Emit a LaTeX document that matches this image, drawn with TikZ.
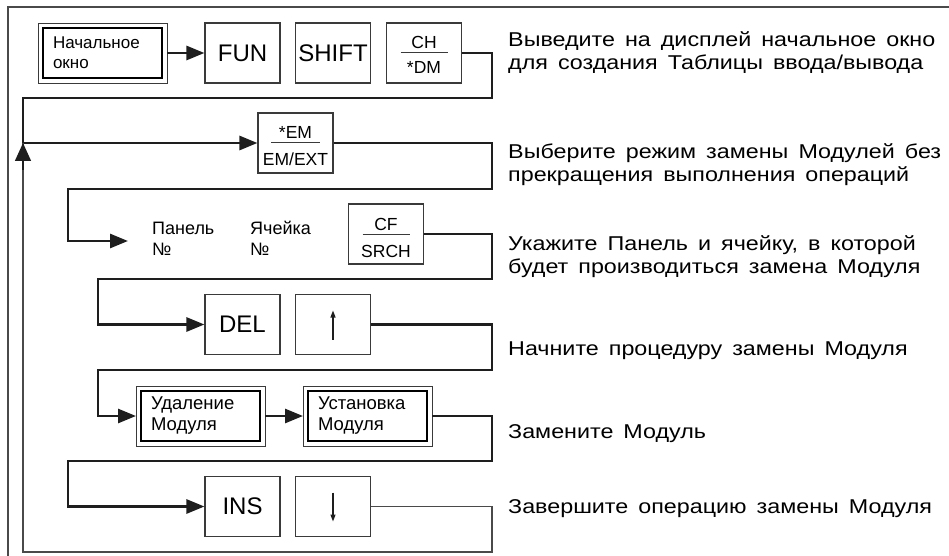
\documentclass[tikz,border=0pt]{standalone}
\usepackage{fontspec}
\setmainfont{Liberation Sans}
\newfontfamily\descfont[FakeStretch=1.165,WordSpace=1.55]{Liberation Sans}
\usetikzlibrary{arrows.meta}
\definecolor{boxc}{HTML}{3A3A3A}
\definecolor{linec}{HTML}{1E1E1E}
\definecolor{retc}{HTML}{4A4A4A}
\begin{document}
\begin{tikzpicture}[x=1pt,y=-1pt,
  key/.style={draw=boxc, line width=1.1pt, minimum width=75pt, minimum height=60pt, inner sep=0pt,
    font=\fontsize{24}{28}\selectfont},
  dbl/.style={draw=black, line width=2.8pt, minimum width=119pt, minimum height=50pt,
    inner xsep=10pt, inner ysep=0pt, text width=99pt, align=left, outer sep=5pt,
    font=\fontsize{18.5}{21}\selectfont},
  outerbox/.style={draw=boxc, line width=0.9pt},
  frac/.style={anchor=base, inner sep=0pt, font=\fontsize{17.5}{21}\selectfont},
  fracline/.style={draw=boxc, line width=1pt},
  conn/.style={draw=linec, line width=2.7pt, -{Triangle[length=18pt,width=14pt]}},
  ret/.style={draw=retc, line width=1.4pt},
  frame/.style={draw=retc, line width=1.5pt},
  desc/.style={anchor=base west, inner sep=0pt, font=\descfont\fontsize{20}{23}\selectfont},
  small/.style={anchor=base west, inner sep=0pt, font=\fontsize{18}{21}\selectfont},
  kbarrow/.style={draw=linec, line width=1.2pt, -{Triangle[length=7pt,width=5pt]}}
]
\useasboundingbox (0,0) rectangle (949,556);

% frame
\coordinate (ftl) at (8,7);
\coordinate (ftr) at (949,7);
\coordinate (fbl) at (8,556);
\draw[frame] (fbl) -- (ftl) -- (ftr);

\coordinate (R) at (492,0);

% row 1
\node[dbl, font=\fontsize{17}{20}\selectfont] (start) at (102.5,53) {Начальное\\окно};
\draw[outerbox] (start.south west) rectangle (start.north east);
\node[key] (fun) at (242.5,53) {FUN};
\node[key] (shift) at (333,53) {SHIFT};
\node[key] (ch) at (424,53) {};
\draw[fracline] ([xshift=-23.5pt]ch.center) -- ([xshift=23.5pt]ch.center);
\node[frac] (chT) at ([yshift=4.5pt]ch.center) {CH};
\node[frac] (chB) at ([yshift=-21pt]ch.center) {*DM};
\draw[conn] (start.east) -- (fun.west);

% row 2
\node[key] (em) at (295.5,143) {};
\draw[fracline] ([xshift=-24.5pt]em.center) -- ([xshift=24.5pt]em.center);
\node[frac] (emT) at ([yshift=4.5pt]em.center) {*EM};
\node[frac] (emB) at ([yshift=-22pt]em.center) {EM/EXT};
\coordinate (a1) at (23,98);
\draw[conn] (ch.east) -- (ch.east -| R) |- (a1) |- (em.west);

% row 3
\node[small] (pan) at (152,234) {Панель};
\node[small] (panN) at (152,255) {№};
\node[small] (yach) at (250,234) {Ячейка};
\node[small] (yachN) at (250,255) {№};
\node[key] (cf) at (386,234) {};
\draw[fracline] ([xshift=-23.5pt]cf.center) -- ([xshift=23.5pt]cf.center);
\node[frac] (cfT) at ([yshift=3.5pt]cf.center) {CF};
\node[frac] (cfB) at ([yshift=-23pt]cf.center) {SRCH};
\coordinate (a2) at (68,189);
\coordinate (pantip) at (128,241);
\draw[conn] (em.east) -- (em.east -| R) |- (a2) |- (pantip);

% row 4
\node[key] (del) at (242.5,324.5) {DEL};
\node[key] (up) at (333,324.5) {};
\draw[kbarrow] ([yshift=-15pt]up.center) -- ([yshift=14pt]up.center);
\coordinate (a3) at (98,279);
\draw[conn] (cf.east) -- (cf.east -| R) |- (a3) |- (del.west);

% row 5
\node[dbl] (ud) at (200.5,416) {Удаление\\Модуля};
\draw[outerbox] (ud.south west) rectangle (ud.north east);
\node[dbl] (ust) at (367.5,416) {Установка\\Модуля};
\draw[outerbox] (ust.south west) rectangle (ust.north east);
\coordinate (a4) at (98,370);
\draw[conn] (up.east) -- (up.east -| R) |- (a4) |- (ud.west);
\draw[conn] (ud.east) -- (ust.west);

% row 6
\node[key] (ins) at (242.5,506.5) {INS};
\node[key] (dn) at (333,506.5) {};
\draw[kbarrow] ([yshift=14pt]dn.center) -- ([yshift=-15pt]dn.center);
\coordinate (a5) at (68,461);
\draw[conn] (ust.east) -- (ust.east -| R) |- (a5) |- (ins.west);

% return loop
\coordinate (rb) at (23,552);
\coordinate (rtip) at (23,143);
\draw[ret] (dn.east) -- (dn.east -| R) |- (rb) -- (rtip);
\draw[draw=linec, line width=1.4pt, -{Triangle[length=18pt,width=16pt]}] (23,170) -- (rtip);

% descriptions
\node[desc] (d1a) at (508,47) {Выведите на дисплей начальное окно};
\node[desc] (d1b) at (508,70) {для создания Таблицы ввода/вывода};
\node[desc] (d2a) at (508,158) {Выберите режим замены Модулей без};
\node[desc] (d2b) at (508,181) {прекращения выполнения операций};
\node[desc] (d3a) at (508,250) {Укажите Панель и ячейку, в которой};
\node[desc] (d3b) at (508,273) {будет производиться замена Модуля};
\node[desc] (d4) at (508,355) {Начните процедуру замены Модуля};
\node[desc] (d5) at (508,438) {Замените Модуль};
\node[desc] (d6) at (508,513) {Завершите операцию замены Модуля};
\end{tikzpicture}
\end{document}
